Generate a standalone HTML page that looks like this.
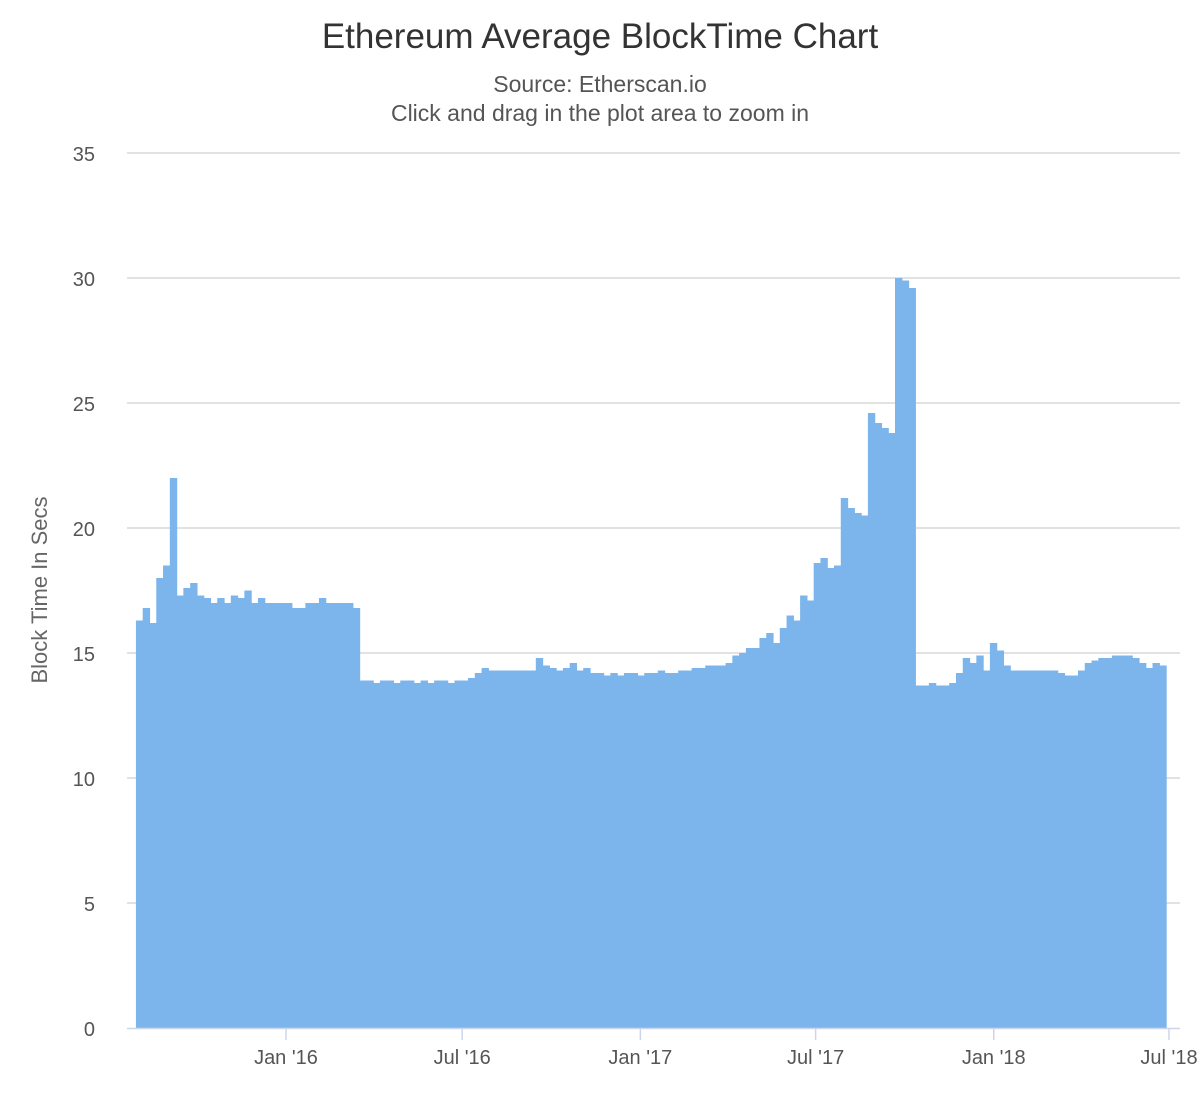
<!DOCTYPE html>
<html><head><meta charset="utf-8"><style>
body{margin:0;background:#fff;font-family:"Liberation Sans",sans-serif;}
svg text{font-family:"Liberation Sans",sans-serif;}
</style></head><body>
<svg id="chart" width="1200" height="1100" xmlns="http://www.w3.org/2000/svg">
<text x="600" y="48" text-anchor="middle" font-size="35" fill="#333">Ethereum Average BlockTime Chart</text>
<text x="600" y="92" text-anchor="middle" font-size="23" fill="#555">Source: Etherscan.io</text>
<text x="600" y="121" text-anchor="middle" font-size="23" fill="#555">Click and drag in the plot area to zoom in</text>
<text transform="translate(47,590) rotate(-90)" text-anchor="middle" font-size="22" fill="#666">Block Time In Secs</text>
<g id="grid"></g><g id="bars"></g><g id="axes"></g>
</svg>
<script>
const startDate = "2015-07-30";
const stepDays = 7;
const values = [16.3,16.8,16.2,18,18.5,22,17.3,17.6,17.8,17.3,17.2,17.0,17.2,17.0,17.3,17.2,17.5,17.0,17.2,17.0,17.0,17.0,17.0,16.8,16.8,17.0,17.0,17.2,17.0,17.0,17.0,17.0,16.8,
13.9,13.9,13.8,13.9,13.9,13.8,13.9,13.9,13.8,13.9,13.8,13.9,13.9,13.8,13.9,13.9,
14.0,14.2,14.4,14.3,14.3,14.3,14.3,14.3,14.3,14.3,14.8,14.5,14.4,14.3,14.4,14.6,14.3,14.4,14.2,
14.2,14.1,14.2,14.1,14.2,14.2,14.1,14.2,14.2,14.3,14.2,14.2,14.3,14.3,14.4,14.4,14.5,14.5,14.5,14.6,14.9,15.0,15.2,15.2,15.6,15.8,15.4,16.0,16.5,16.3,17.3,17.1,18.6,18.8,18.4,18.5,21.2,20.8,20.6,20.5,24.6,24.2,24.0,23.8,30.0,29.9,29.6,
13.7,13.7,13.8,13.7,13.7,13.8,14.2,14.8,14.6,14.9,14.3,15.4,15.1,14.5,14.3,14.3,14.3,14.3,14.3,14.3,14.3,14.2,14.1,14.1,14.3,14.6,14.7,14.8,14.8,14.9,14.9,14.9,14.8,14.6,14.4,14.6,14.5];
const yTicks = [0,5,10,15,20,25,30,35];
const xTickLabels = ["Jan '16","Jul '16","Jan '17","Jul '17","Jan '18","Jul '18"];
const xTickDates = ["2016-01-01","2016-07-01","2017-01-01","2017-07-01","2018-01-01","2018-07-01"];

const NS="http://www.w3.org/2000/svg";
const plotL=127,plotR=1180,plotT=153,plotB=1028,yMax=35;
const d0=Date.parse("2016-01-01"),d1=Date.parse("2018-07-01"),x0=286,x1=1169;
function xScale(ms){return x0+(ms-d0)/(d1-d0)*(x1-x0);}
function yScale(v){return plotB-(v/yMax)*(plotB-plotT);}
function mk(tag,attrs,parent){const e=document.createElementNS(NS,tag);for(const k in attrs)e.setAttribute(k,attrs[k]);parent.appendChild(e);return e;}
const grid=document.getElementById('grid'),bars=document.getElementById('bars'),axes=document.getElementById('axes');
yTicks.forEach(t=>{
  const y=yScale(t);
  if(t>0){const l=mk('line',{x1:plotL,x2:plotR,y1:y,y2:y,stroke:'#d8d8d8','stroke-width':1.5},grid);
  
  }
  const tx=mk('text',{x:95,y:y+8,'text-anchor':'end','font-size':20,fill:'#555'},axes);
  tx.textContent=t;
  
  
});
const s0=Date.parse(startDate),dayMs=86400000,xEnd=1170;
values.forEach((v,i)=>{
  const xa=xScale(s0+i*stepDays*dayMs);
  let xb=xScale(s0+(i+1)*stepDays*dayMs);
  if(xb>xEnd)xb=xEnd;
  if(xb<=xa)return;
  const y=yScale(v);
  const r=mk('rect',{x:xa,y:y,width:xb-xa+0.6,height:plotB-y,fill:'#7cb5ec'},bars);
  
  
});
const ax=mk('line',{x1:plotL,x2:plotR,y1:plotB+0.5,y2:plotB+0.5,stroke:'#ccd6eb','stroke-width':1.5},axes);


xTickDates.forEach((d,i)=>{
  const x=xScale(Date.parse(d));
  const tk=mk('line',{x1:x,x2:x,y1:plotB,y2:plotB+12,stroke:'#ccd6eb','stroke-width':1.5},axes);
  
  
  const tx=mk('text',{x:x,y:1064,'text-anchor':'middle','font-size':20,fill:'#555'},axes);
  tx.textContent=xTickLabels[i];
  
  
});
</script>
</body></html>
